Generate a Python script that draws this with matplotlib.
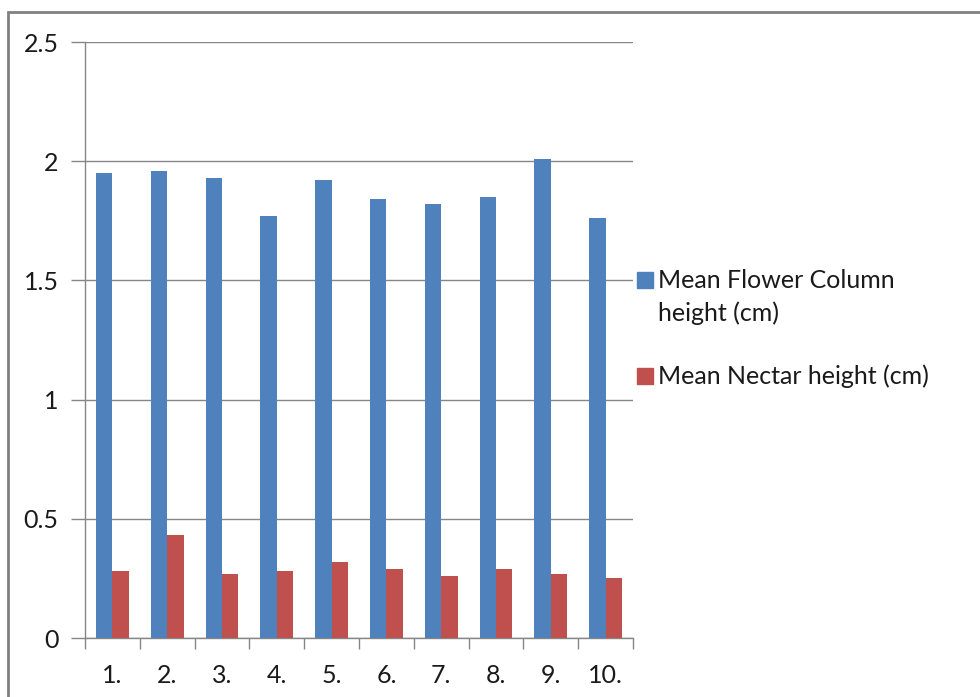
import matplotlib.pyplot as plt
import matplotlib.patches as mpatches
import numpy as np

plt.rcParams['font.family'] = ['Lato', 'DejaVu Sans']

# 数据
categories = ["1.", "2.", "3.", "4.", "5.", "6.", "7.", "8.", "9.", "10."]
flower_column = [1.95, 1.96, 1.93, 1.77, 1.92, 1.84, 1.82, 1.85, 2.01, 1.76]
nectar = [0.28, 0.43, 0.27, 0.28, 0.32, 0.29, 0.26, 0.29, 0.27, 0.25]
series_labels = ["Mean Flower Column", "height (cm)", "Mean Nectar height (cm)"]
y_ticks = [0, 0.5, 1, 1.5, 2, 2.5]
y_tick_labels = ["0", "0.5", "1", "1.5", "2", "2.5"]

blue = '#4F81BD'
red = '#C0504D'
grey = '#868686'
fs = 18

W, H = 980, 697
fig = plt.figure(figsize=(W / 100, H / 100), dpi=100)
ax = fig.add_axes([85 / W, 1 - 638 / H, (633 - 85) / W, (638 - 42) / H])

x = np.arange(len(categories))
bw = 0.3
ax.bar(x - bw / 2, flower_column, width=bw, color=blue, zorder=3)
ax.bar(x + bw / 2, nectar, width=bw, color=red, zorder=3)

ax.set_xlim(-0.5, len(categories) - 0.5)
ax.set_ylim(0, 2.5)

# y轴刻度和网格
ax.set_yticks(y_ticks)
ax.set_yticklabels(y_tick_labels)
ax.yaxis.grid(True, color=grey, linewidth=1.0, zorder=0)
ax.tick_params(axis='y', length=10, width=1, color=grey, labelsize=fs, labelcolor='#1a1a1a', pad=9)

# x轴：标签在中间，刻度在分界处
ax.set_xticks(x)
ax.set_xticklabels(categories)
ax.set_xticks(np.arange(-0.5, len(categories), 1), minor=True)
ax.tick_params(axis='x', which='major', length=0, labelsize=fs, labelcolor='#1a1a1a', pad=19)
ax.tick_params(axis='x', which='minor', length=8, width=1, color=grey)

for s in ['top', 'right']:
    ax.spines[s].set_visible(False)
for s in ['left', 'bottom']:
    ax.spines[s].set_color(grey)
    ax.spines[s].set_linewidth(1.0)

# 图例（手动绘制，第一个标签两行）
def fx(px):
    return px / W

def fy(py):
    return 1 - py / H

fig.patches.append(mpatches.Rectangle((fx(637), fy(288)), 16 / W, 16 / H,
                                      color=blue, transform=fig.transFigure))
fig.text(fx(658), fy(280), series_labels[0], fontsize=fs, color='#1a1a1a',
         va='center', ha='left')
fig.text(fx(658), fy(313), series_labels[1], fontsize=fs, color='#1a1a1a',
         va='center', ha='left')
fig.patches.append(mpatches.Rectangle((fx(637), fy(384)), 16 / W, 16 / H,
                                      color=red, transform=fig.transFigure))
fig.text(fx(658), fy(376), series_labels[2], fontsize=fs, color='#1a1a1a',
         va='center', ha='left')

# 外框（右边和下边超出画面）
fig.patches.append(mpatches.Rectangle((fx(8), -0.1), 1.0, fy(12) + 0.1,
                                      fill=False, edgecolor='#808080', linewidth=2,
                                      transform=fig.transFigure))

fig.savefig("out.png", dpi=100)
